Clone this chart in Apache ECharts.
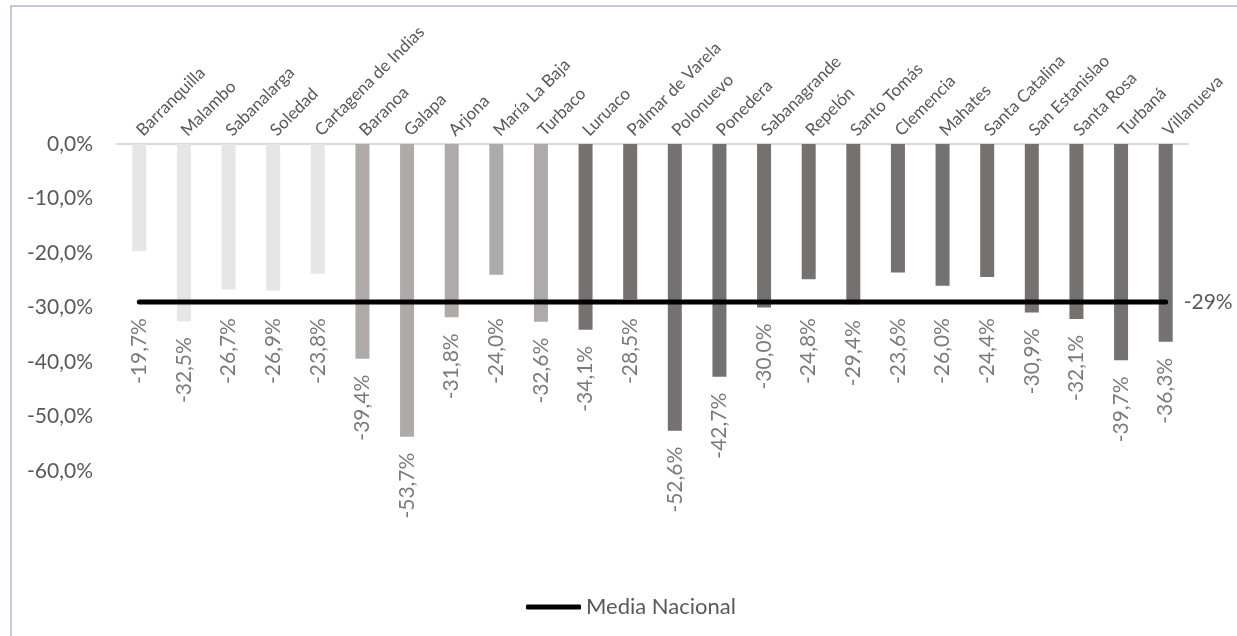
<!DOCTYPE html>
<html>
<head>
<meta charset="utf-8">
<script src="https://cdn.jsdelivr.net/npm/echarts@6/dist/echarts.min.js"></script>
<style>
  html, body { margin: 0; padding: 0; background: #fff; }
  #chart { width: 1237px; height: 636px; }
</style>
</head>
<body>
<div id="chart"></div>
<script>
// municipios
var municipios = ['Barranquilla', 'Malambo', 'Sabanalarga', 'Soledad', 'Cartagena de Indias',
  'Baranoa', 'Galapa', 'Arjona', 'María La Baja', 'Turbaco', 'Luruaco', 'Palmar de Varela',
  'Polonuevo', 'Ponedera', 'Sabanagrande', 'Repelón', 'Santo Tomás', 'Clemencia', 'Mahates',
  'Santa Catalina', 'San Estanislao', 'Santa Rosa', 'Turbaná', 'Villanueva'];

// variacion (%)
var variacion = [-19.7, -32.5, -26.7, -26.9, -23.8, -39.4, -53.7, -31.8, -24.0, -32.6, -34.1, -28.5,
  -52.6, -42.7, -30.0, -24.8, -29.4, -23.6, -26.0, -24.4, -30.9, -32.1, -39.7, -36.3];

// grupo de cada municipio (0 claro, 1 medio, 2 oscuro)
var grupo = [0, 0, 0, 0, 0, 1, 1, 1, 1, 1, 2, 2, 2, 2, 2, 2, 2, 2, 2, 2, 2, 2, 2, 2];

var mediaNacional = [-29, -29, -29, -29, -29, -29, -29, -29, -29, -29, -29, -29,
  -29, -29, -29, -29, -29, -29, -29, -29, -29, -29, -29, -29];

var yTicks = [0, -10, -20, -30, -40, -50, -60];

var colores = ['#e7e6e6', '#aeaaaa', '#767171'];
var fuente = 'Lato, "Open Sans", sans-serif';
var gris = '#595959';

function pct(v) {
  return v.toFixed(1).replace('.', ',') + '%';
}

// etiquetas de valor: se bajan por debajo de la media cuando la barra no la alcanza
var media = mediaNacional[0];
var anclas = variacion.map(function (v, i) {
  return [i, Math.min(v, media), v];
});

var chart = echarts.init(document.getElementById('chart'));

var option = {
  animation: false,
  backgroundColor: '#fff',
  textStyle: { fontFamily: fuente },
  graphic: [{
    type: 'rect',
    shape: { x: 11, y: 6, width: 1260, height: 660 },
    style: { fill: 'none', stroke: '#adb9cd', lineWidth: 1.5 },
    silent: true
  }],
  grid: { left: 117, right: 49, top: 144, bottom: 165 },
  legend: {
    data: [{ name: 'Media Nacional', icon: 'roundRect' }],
    left: 521,
    top: 591,
    itemWidth: 55,
    itemHeight: 5,
    itemGap: 6,
    itemStyle: { color: '#000' },
    textStyle: { fontFamily: fuente, fontSize: 22, color: gris }
  },
  xAxis: {
    type: 'category',
    position: 'top',
    data: municipios,
    axisLine: { lineStyle: { color: '#d9d9d9', width: 2 } },
    axisTick: { show: false },
    axisLabel: {
      rotate: 45,
      interval: 0,
      margin: 11,
      fontFamily: fuente,
      fontSize: 17,
      color: gris
    }
  },
  yAxis: {
    type: 'value',
    min: yTicks[yTicks.length - 1],
    max: yTicks[0],
    interval: 10,
    axisLine: { show: false },
    axisTick: { show: false },
    splitLine: { show: false },
    axisLabel: {
      margin: 24,
      fontFamily: fuente,
      fontSize: 21,
      color: gris,
      formatter: function (v) { return pct(v); }
    }
  },
  series: [
    {
      name: 'Variación',
      type: 'bar',
      barWidth: 14,
      data: variacion.map(function (v, i) {
        return { value: v, itemStyle: { color: colores[grupo[i]] } };
      }),
      z: 2
    },
    {
      name: 'Media Nacional',
      type: 'line',
      data: mediaNacional,
      symbol: 'none',
      itemStyle: { color: '#000' },
      lineStyle: { color: '#000', width: 5, cap: 'round' },
      endLabel: {
        show: true,
        distance: 18,
        fontFamily: fuente,
        fontSize: 21,
        color: gris,
        formatter: function () { return media + '%'; }
      },
      z: 3
    },
    {
      name: 'etiquetas',
      type: 'scatter',
      data: anclas,
      symbolSize: 0,
      silent: true,
      label: {
        show: true,
        position: 'bottom',
        distance: 16,
        rotate: 90,
        align: 'right',
        verticalAlign: 'middle',
        fontFamily: fuente,
        fontSize: 21,
        color: gris,
        formatter: function (p) { return pct(p.value[2]); }
      },
      z: 4
    }
  ]
};

chart.setOption(option);
</script>
</body>
</html>
